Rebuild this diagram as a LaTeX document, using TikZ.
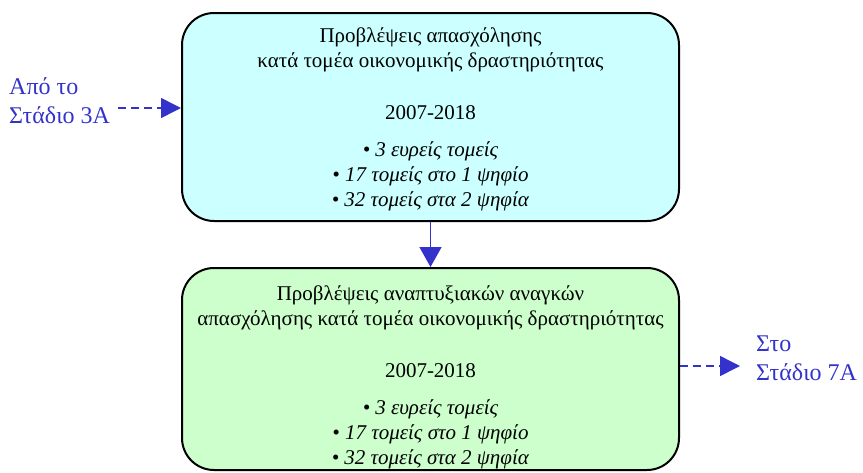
\documentclass[tikz,border=0pt]{standalone}
\usepackage{fontspec}
\setmainfont{Liberation Serif}
\usetikzlibrary{arrows.meta}
\definecolor{arrowblue}{HTML}{3333CC}
\definecolor{boxcyan}{HTML}{CCFFFF}
\definecolor{boxgreen}{HTML}{CCFFCC}
\begin{document}
\begin{tikzpicture}[x=1pt,y=-1pt,
  roundbox/.style={draw=black,line width=2pt,rounded corners=32pt,minimum width=497pt,inner sep=0pt},
  boxtext/.style={align=center,font=\fontsize{21}{25}\selectfont,inner sep=0pt},
  bluetext/.style={align=left,text=arrowblue,font=\fontsize{24}{29}\selectfont,inner sep=0pt},
  dasharrow/.style={draw=arrowblue,line width=1.5pt,dash pattern=on 8pt off 5pt,-{Triangle[length=20pt,width=20pt]}},
  solidarrow/.style={draw=arrowblue,line width=1.5pt,-{Triangle[length=20pt,width=22pt]}}
]
\useasboundingbox (0,0) rectangle (863,472);
\node[roundbox,fill=boxcyan,minimum height=208pt] (top) at (430.5,117) {};
\node[roundbox,fill=boxgreen,minimum height=202pt] (bot) at (430.5,369) {};
\node[boxtext,anchor=north] (toptext) at (430.5,27) {Προβλέψεις απασχόλησης\\κατά τομέα οικονομικής δραστηριότητας\\[27pt]2007-2018\\[12pt]\textit{• 3 ευρείς τομείς}\\\textit{• 17 τομείς στο 1 ψηφίο}\\\textit{• 32 τομείς στα 2 ψηφία}};
\node[boxtext,anchor=north] (bottext) at (430.5,285) {Προβλέψεις αναπτυξιακών αναγκών\\απασχόλησης κατά τομέα οικονομικής δραστηριότητας\\[27pt]2007-2018\\[12pt]\textit{• 3 ευρείς τομείς}\\\textit{• 17 τομείς στο 1 ψηφίο}\\\textit{• 32 τομείς στα 2 ψηφία}};
\node[bluetext,anchor=west] (from) at (9,101) {Από το\\Στάδιο 3Α};
\node[bluetext,anchor=west] (to) at (756,358) {Στο\\Στάδιο 7Α};
\coordinate (a) at (118,108);
\coordinate (b) at (740,366);
\draw[dasharrow] (a) -- (a -| top.west);
\draw[dasharrow] (b -| bot.east) -- (b);
\draw[solidarrow] (top.south) -- (bot.north);
\end{tikzpicture}
\end{document}
